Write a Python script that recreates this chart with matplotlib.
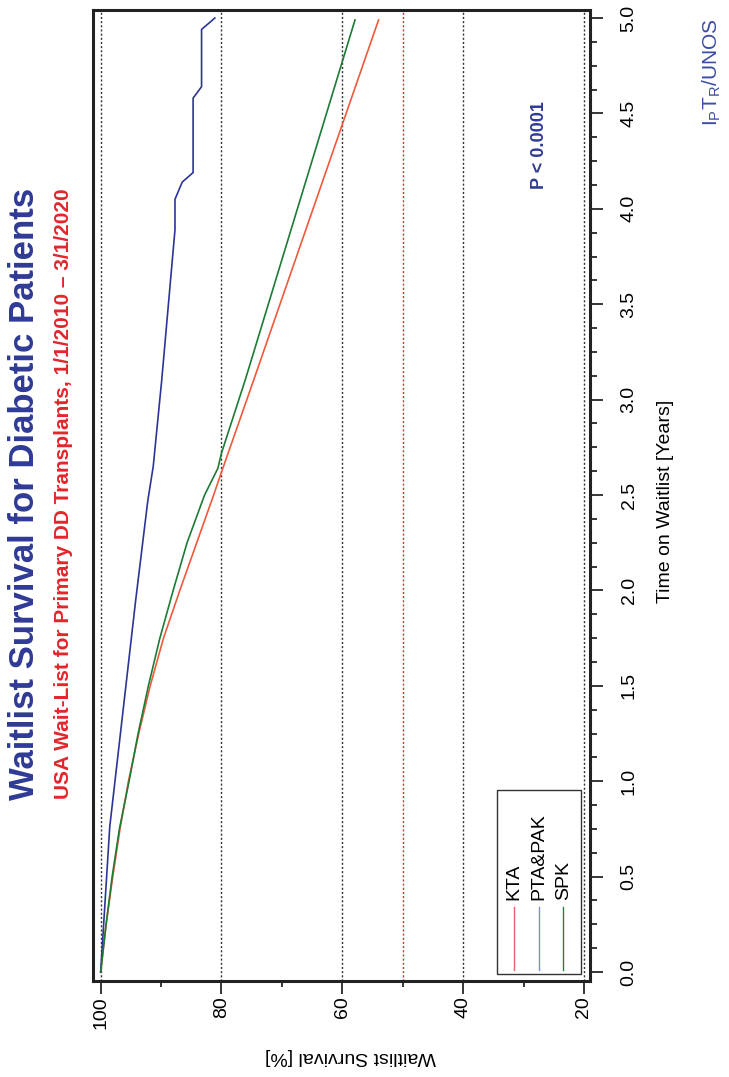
import matplotlib
matplotlib.use('Agg')
import matplotlib.pyplot as plt
from matplotlib.patches import Rectangle
from matplotlib.ticker import MultipleLocator

plt.rcParams['font.family'] = ['Liberation Sans', 'DejaVu Sans']
plt.rcParams['mathtext.default'] = 'regular'

# Waitlist survival curves (time in years, survival in %)
kta_t = [0.0, 0.25, 0.5, 0.75, 1.0, 1.25, 1.5, 1.75, 2.0, 2.25, 2.5, 2.62, 3.10, 4.99]
kta_s = [100.0, 99.1, 98.0, 96.8, 95.4, 93.7, 91.8, 89.6, 86.9, 84.1, 81.3, 80.0, 74.7, 54.0]

spk_t = [0.0, 0.25, 0.5, 0.75, 1.0, 1.25, 1.5, 1.75, 2.0, 2.25, 2.5, 2.64, 2.72, 3.10, 4.99]
spk_s = [100.0, 99.1, 98.1, 96.9, 95.3, 93.8, 92.1, 90.2, 88.0, 85.7, 82.8, 80.6, 80.0, 76.1, 57.9]

pak_t = [0.0, 0.76, 1.95, 2.47, 2.65, 3.10, 3.89, 4.05, 4.14, 4.19, 4.58, 4.64, 4.94, 5.0]
pak_s = [100.0, 98.5, 94.2, 92.2, 91.3, 89.9, 87.7, 87.7, 86.5, 84.7, 84.7, 83.3, 83.3, 81.1]

series_names = ['KTA', 'PTA&PAK', 'SPK']
grid_levels = [100, 80, 60, 40, 20]
median_level = 50

BLUE = '#2E3A94'
RED = '#E3262B'

fig = plt.figure(figsize=(7.29, 10.77), dpi=100)
# the whole chart is drawn turned a quarter turn: survival runs left->right, time bottom->top
ax = fig.add_axes([93/729, 1 - 981/1077, 497/729, 971/1077])

for g in grid_levels:
    ax.axvline(g, color='#333333', ls=(0, (1.5, 1.5)), lw=1.0, zorder=1)
ax.axvline(median_level, color='#E8262B', ls=(0, (1.5, 1.5)), lw=1.0, zorder=1)

ax.plot(kta_s, kta_t, color='#EE5A3C', lw=1.2, zorder=3)
ax.plot(pak_s, pak_t, color='#2B3596', lw=1.2, zorder=3)
ax.plot(spk_s, spk_t, color='#1E7B35', lw=1.2, zorder=3)

ax.set_xlim(101.27, 19.0)
ax.set_ylim(-0.047, 5.042)

ax.xaxis.set_major_locator(MultipleLocator(20))
ax.xaxis.set_minor_locator(MultipleLocator(10))
ax.yaxis.set_major_locator(MultipleLocator(0.5))
ax.yaxis.set_minor_locator(MultipleLocator(0.125))
ax.yaxis.tick_right()
ax.yaxis.set_major_formatter(plt.FormatStrFormatter('%.1f'))

ax.tick_params(axis='x', which='major', length=9, width=1.1, pad=2, labelsize=14)
ax.tick_params(axis='x', which='minor', length=4.5, width=1.1)
ax.tick_params(axis='y', which='major', length=9, width=1.1, pad=13, labelsize=14)
ax.tick_params(axis='y', which='minor', length=5, width=1.1)
plt.setp(ax.get_xticklabels(), rotation=90)
plt.setp(ax.get_yticklabels(), rotation=90, va='center')

for sp in ax.spines.values():
    sp.set_linewidth(2.2)
    sp.set_color('#222222')

ax.set_xlabel('Waitlist Survival [%]', fontsize=14, rotation=180)
ax.xaxis.set_label_coords(0.518, -0.078)
ax.xaxis.label.set_va('center')
ax.yaxis.set_label_position('right')
ax.set_ylabel('Time on Waitlist [Years]', fontsize=14, rotation=90)
ax.yaxis.set_label_coords(1.151, 0.494)
ax.yaxis.label.set_va('center')

# legend (turned like the rest of the chart)
ax.add_patch(Rectangle((0.813, 0.0072), 0.169, 0.1895, transform=ax.transAxes,
                       fill=False, ec='#333333', lw=1.0, zorder=4))
leg_x = [0.847, 0.897, 0.946]
leg_colors = ['#E8606E', '#7F8FCB', '#2E7D3E']
for name, lx, c in zip(series_names, leg_x, leg_colors):
    ax.plot([lx, lx], [0.0113, 0.0762], color=c, lw=1.0, transform=ax.transAxes, zorder=5)
    ax.text(lx, 0.0834, name, rotation=90, ha='center', va='bottom', fontsize=14,
            transform=ax.transAxes, zorder=5)

ax.text((540 - 93) / 497, (981 - 145) / 971, 'P < 0.0001', rotation=90, ha='center',
        va='center', fontsize=13, fontweight='bold', color=BLUE, transform=ax.transAxes)

fig.text(25 / 729, 1 - 494 / 1077, 'Waitlist Survival for Diabetic Patients', rotation=90,
         ha='center', va='center', fontsize=25, fontweight='bold', color=BLUE)
fig.text(64 / 729, 1 - 494 / 1077,
         'USA Wait-List for Primary DD Transplants, 1/1/2010 \u2013 3/1/2020', rotation=90,
         ha='center', va='center', fontsize=15, fontweight='bold', color=RED)
fig.text(712 / 729, 1 - 72 / 1077, r'I$_{P}$T$_{R}$/UNOS', rotation=90,
         ha='center', va='center', fontsize=15, color='#3B4BA8')

fig.savefig('out.png', dpi=100)
